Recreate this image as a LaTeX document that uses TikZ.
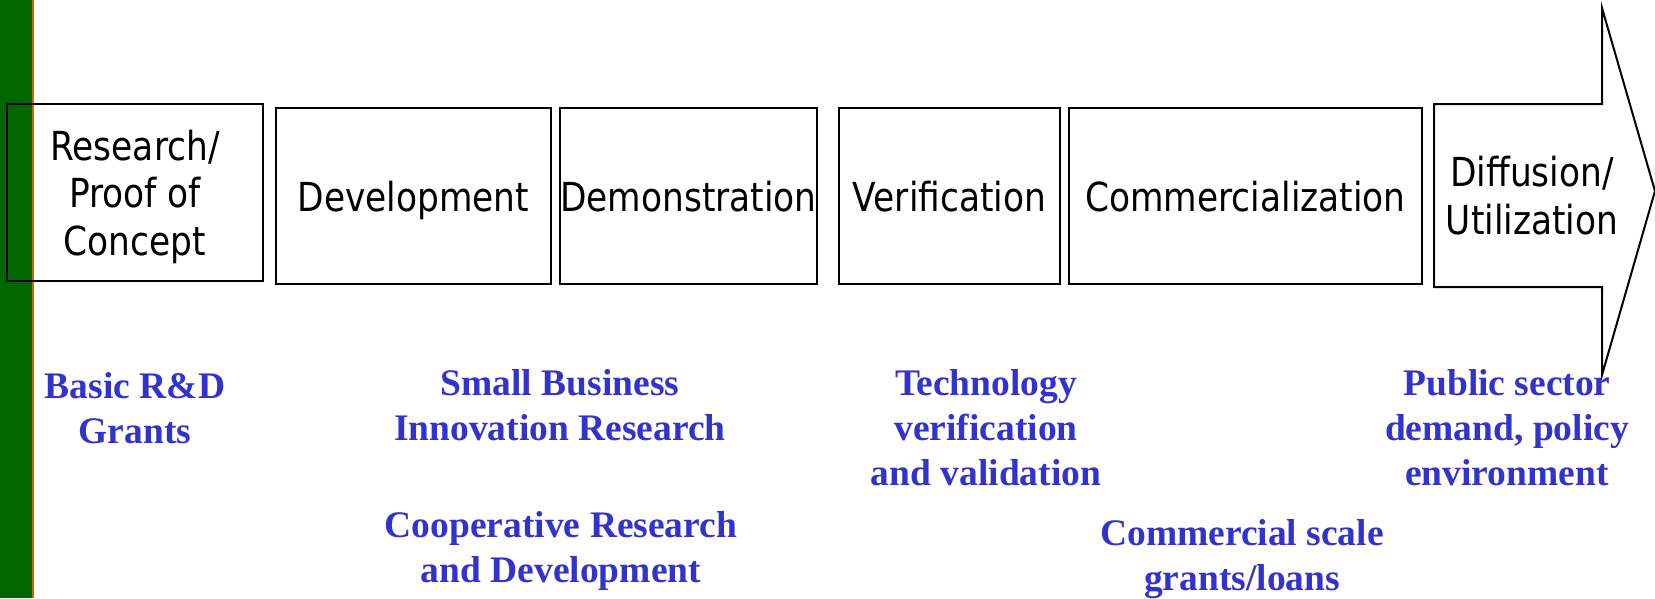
\documentclass[tikz,border=0pt]{standalone}
\usepackage{fontspec}
\setmainfont{Liberation Serif}
\newfontfamily\stagefont[FakeStretch=0.86]{DejaVu Sans}
\usepackage{tikz}
\definecolor{fundblue}{RGB}{51,51,204}
\definecolor{bargreen}{RGB}{0,102,0}
\definecolor{barorange}{RGB}{204,102,0}
\usetikzlibrary{positioning}
\tikzset{stagetext/.style={inner sep=0pt,align=center,font=\stagefont\fontsize{40}{47.5}\selectfont}}
\tikzset{stage/.style={stagetext,rectangle,draw=black,line width=2pt,text depth=0pt}}
\tikzset{fund/.style={text=fundblue,inner sep=0pt,align=center,font=\bfseries\fontsize{37.5}{45}\selectfont}}
\tikzset{outline/.style={black,line width=2pt,line join=miter}}

\begin{document}
\begin{tikzpicture}[x=1pt,y=-1pt]
  \useasboundingbox (0,0) rectangle (1655,598);
  % Side bar
  \fill[bargreen] (0,0) rectangle (32,598);
  \fill[barorange] (32,0) rectangle (34,598);

  % Stages
  \node[stage,minimum width=256pt,minimum height=177pt] (research) at (135,192.5) {Research/\\Proof of\\Concept};
  \node[stage,minimum width=275pt,minimum height=176pt] (develop) at (413.5,196) {Development};
  \node[stage,minimum width=257pt,minimum height=176pt] (demo) at (688.5,196) {Demonstration};
  \node[stage,minimum width=221pt,minimum height=176pt] (verify) at (949.5,196) {Verification};
  \node[stage,minimum width=353pt,minimum height=176pt] (commerce) at (1245.5,196) {Commercialization};

  % Arrow
  \draw[outline] (1434,104) -- (1602,104) -- (1602,8) -- (1655,191) -- (1602,375) -- (1602,287) -- (1434,287) -- cycle;
  \node[stagetext] (diffusion) at (1532,195.5) {Diffusion/\\Utilization};

  % Funding
  \node[fund] (basic) at (135,408) {Basic R\&D\\Grants};
  \node[fund] (sbir) at (560,405.5) {Small Business\\Innovation Research};
  \node[fund] (crad) at (561,551) {Cooperative Research\\and Development};
  \node[fund] (techver) at (986,428) {Technology\\verification\\and validation};
  \node[fund] (grants) at (1242,559) {Commercial scale\\grants/loans};
  \node[fund] (public) at (1507,428) {Public sector\\demand, policy\\environment};
\end{tikzpicture}
\end{document}
